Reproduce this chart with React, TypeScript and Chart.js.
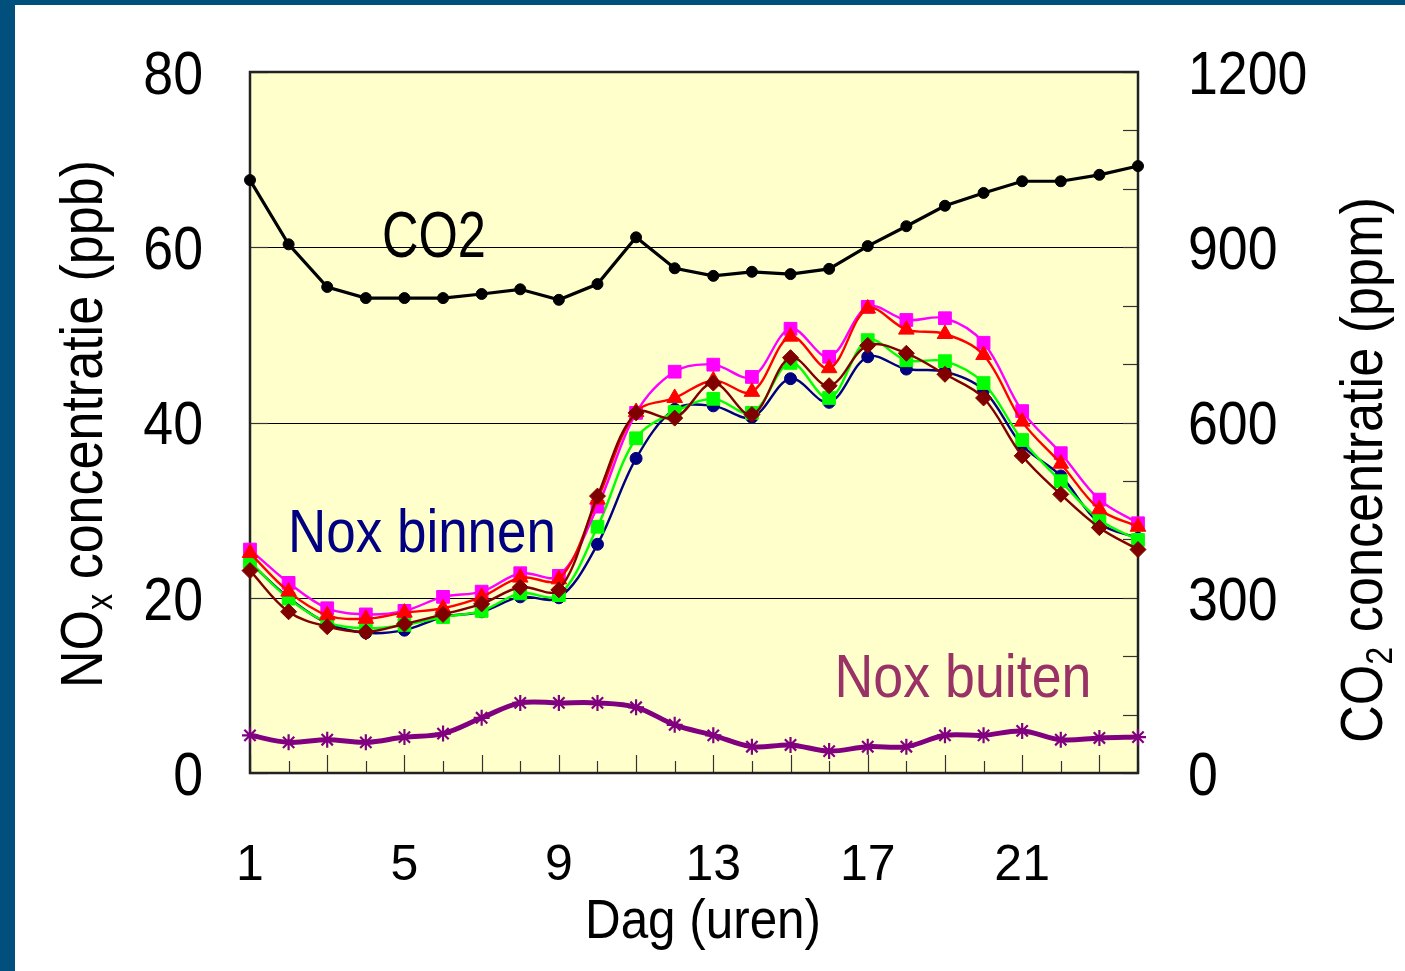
import React, { useEffect, useRef } from "react";
import { Chart, registerables } from "chart.js";

Chart.register(...registerables);

const hours = [1, 2, 3, 4, 5, 6, 7, 8, 9, 10, 11, 12, 13, 14, 15, 16, 17, 18, 19, 20, 21, 22, 23, 24];
const co2 = [1015, 905, 832, 813, 813, 813, 820, 828, 810, 837, 917, 864, 851, 858, 854, 863, 902, 936, 971, 993, 1013, 1013, 1024, 1039];
const noxBlue = [24.0, 20.0, 17.1, 16.0, 16.3, 17.8, 18.4, 20.1, 20.0, 26.1, 35.9, 41.5, 41.9, 40.6, 45.0, 42.3, 47.5, 46.1, 45.8, 43.7, 37.4, 33.9, 28.5, 26.8];
const noxGreen = [24.1, 19.9, 17.2, 16.5, 16.9, 17.8, 18.5, 20.5, 20.3, 28.1, 38.2, 41.2, 42.7, 41.1, 46.8, 42.8, 49.4, 47.1, 47.0, 44.5, 38.0, 33.3, 28.9, 26.6];
const noxRed = [25.1, 20.7, 18.0, 17.6, 18.3, 18.8, 20.1, 22.3, 22.1, 31.2, 41.2, 42.8, 44.8, 43.5, 49.8, 46.2, 53.0, 50.6, 50.1, 47.7, 40.1, 35.3, 30.1, 28.1];
const noxMagenta = [25.5, 21.7, 18.8, 18.1, 18.5, 20.1, 20.7, 22.8, 22.5, 30.4, 41.1, 45.8, 46.6, 45.2, 50.7, 47.5, 53.2, 51.7, 51.9, 49.1, 41.3, 36.5, 31.2, 28.5];
const noxMaroon = [23.1, 18.4, 16.7, 16.1, 17.0, 18.1, 19.3, 21.2, 20.9, 31.6, 41.1, 40.5, 44.5, 40.9, 47.4, 44.2, 48.8, 47.9, 45.5, 42.8, 36.2, 31.8, 28.0, 25.5];
const noxOut = [4.3, 3.5, 3.8, 3.5, 4.1, 4.5, 6.3, 8.0, 8.0, 8.0, 7.5, 5.5, 4.3, 3.0, 3.2, 2.5, 3.0, 3.0, 4.3, 4.3, 4.8, 3.8, 4.0, 4.1];

const xTickLabels = [1, 5, 9, 13, 17, 21];
const leftTicks = [0, 20, 40, 60, 80];
const rightTicks = [0, 300, 600, 900, 1200];
const rightMinorStep = 100;

const FONT = "'Liberation Sans', Arial, sans-serif";

type Seg = { t: string; sub?: boolean };

function drawFit(
  ctx: CanvasRenderingContext2D,
  segs: Seg[],
  cx: number,
  cy: number,
  width: number,
  size: number,
  color: string,
  rot: number
) {
  ctx.save();
  ctx.translate(cx, cy);
  ctx.rotate(rot);
  let total = 0;
  const ws: number[] = [];
  for (const s of segs) {
    ctx.font = `${s.sub ? size * 0.62 : size}px ${FONT}`;
    const w = ctx.measureText(s.t).width;
    ws.push(w);
    total += w;
  }
  const sc = width / total;
  ctx.scale(sc, 1);
  ctx.fillStyle = color;
  ctx.textAlign = "left";
  ctx.textBaseline = "alphabetic";
  let x = -total / 2;
  const base = size * 0.36;
  segs.forEach((s, i) => {
    ctx.font = `${s.sub ? size * 0.62 : size}px ${FONT}`;
    ctx.fillText(s.t, x, s.sub ? base + size * 0.17 : base);
    x += ws[i];
  });
  ctx.restore();
}

function drawNum(
  ctx: CanvasRenderingContext2D,
  text: string,
  x: number,
  cy: number,
  size: number,
  sx: number,
  align: CanvasTextAlign
) {
  ctx.save();
  ctx.translate(x, cy);
  ctx.scale(sx, 1);
  ctx.font = `${size}px ${FONT}`;
  ctx.fillStyle = "#000";
  ctx.textAlign = align;
  ctx.textBaseline = "alphabetic";
  ctx.fillText(text, 0, size * 0.358);
  ctx.restore();
}

const decorPlugin = {
  id: "decor",
  beforeDatasetsDraw(chart: any) {
    const ctx: CanvasRenderingContext2D = chart.ctx;
    const { left, right, top, bottom } = chart.chartArea;
    const xs = chart.scales.x;
    const ys = chart.scales.y;
    const y1 = chart.scales.y1;
    ctx.save();
    ctx.fillStyle = "#ffffcc";
    ctx.fillRect(left, top, right - left, bottom - top);
    // gridlines
    ctx.strokeStyle = "#000";
    ctx.lineWidth = 1.2;
    for (const v of leftTicks) {
      if (v === 0 || v === 80) continue;
      const py = Math.round(ys.getPixelForValue(v)) + 0.5;
      ctx.beginPath();
      ctx.moveTo(left, py);
      ctx.lineTo(right, py);
      ctx.stroke();
    }
    // inward x ticks
    ctx.strokeStyle = "#333";
    ctx.lineWidth = 1.2;
    for (const h of hours) {
      const px = Math.round(xs.getPixelForValue(h)) + 0.5;
      const len = h % 2 === 1 ? 18 : 12;
      ctx.beginPath();
      ctx.moveTo(px, bottom);
      ctx.lineTo(px, bottom - len);
      ctx.stroke();
    }
    // inward right ticks
    for (let v = 0; v <= 1200; v += rightMinorStep) {
      const py = Math.round(y1.getPixelForValue(v)) + 0.5;
      ctx.beginPath();
      ctx.moveTo(right, py);
      ctx.lineTo(right - 15, py);
      ctx.stroke();
    }
    // left ticks
    for (const v of leftTicks) {
      const py = Math.round(ys.getPixelForValue(v)) + 0.5;
      ctx.beginPath();
      ctx.moveTo(left, py);
      ctx.lineTo(left + 18, py);
      ctx.stroke();
    }
    // frame
    ctx.strokeStyle = "#222";
    ctx.lineWidth = 2.5;
    ctx.strokeRect(left, top, right - left, bottom - top);

    // tick labels
    for (const v of leftTicks) {
      drawNum(ctx, String(v), 203, ys.getPixelForValue(v), 61, 0.88, "right");
    }
    for (const v of rightTicks) {
      drawNum(ctx, String(v), 1188, y1.getPixelForValue(v), 61, 0.88, "left");
    }
    for (const v of xTickLabels) {
      drawNum(ctx, String(v), xs.getPixelForValue(v), 862, 50, 1, "center");
    }
    // titles
    drawFit(ctx, [{ t: "Dag (uren)" }], 703, 918, 236, 56, "#000", 0);
    drawFit(ctx, [{ t: "NO" }, { t: "x", sub: true }, { t: " concentratie (ppb)" }], 80, 424, 528, 60, "#000", -Math.PI / 2);
    drawFit(ctx, [{ t: "CO" }, { t: "2", sub: true }, { t: " concentratie (ppm)" }], 1360, 470, 546, 60, "#000", -Math.PI / 2);
    // annotations
    drawFit(ctx, [{ t: "CO2" }], 434, 234, 104, 64, "#000", 0);
    drawFit(ctx, [{ t: "Nox binnen" }], 422, 530, 268, 62, "#000080", 0);
    drawFit(ctx, [{ t: "Nox buiten" }], 963, 675, 257, 61, "#993366", 0);
    ctx.restore();
  },
};

function series(vals: number[]) {
  return hours.map((h, i) => ({ x: h, y: vals[i] }));
}

export default function App() {
  const ref = useRef<HTMLCanvasElement | null>(null);
  useEffect(() => {
    if (!ref.current) return;
    const mk = (label: string, vals: number[], color: string, style: any, radius: number, order: number, extra: any = {}) => ({
      label,
      data: series(vals),
      borderColor: color,
      backgroundColor: color,
      pointBackgroundColor: color,
      pointBorderColor: color,
      pointStyle: style,
      pointRadius: radius,
      pointBorderWidth: 1,
      borderWidth: 2.4,
      tension: 0.35,
      yAxisID: "y",
      clip: false,
      order,
      ...extra,
    });
    const chart = new Chart(ref.current, {
      type: "line",
      data: {
        datasets: [
          mk("CO2", co2, "#000000", "circle", 5.5, 0, { yAxisID: "y1", tension: 0, borderWidth: 3.2 }),
          mk("Nox buiten", noxOut, "#800080", "star", 8, 0, { borderWidth: 5, pointBorderWidth: 2.2 }),
          mk("Nox binnen 5", noxMaroon, "#800000", "rectRot", 8, 1),
          mk("Nox binnen 3", noxRed, "#ff0000", "triangle", 9, 2),
          mk("Nox binnen 4", noxMagenta, "#ff00ff", "rect", 9, 3),
          mk("Nox binnen 2", noxGreen, "#00ff00", "rect", 9, 4),
          mk("Nox binnen 1", noxBlue, "#000080", "circle", 6, 5),
        ],
      },
      options: {
        responsive: false,
        animation: false,
        layout: { padding: { top: 72, left: 0, right: 0, bottom: 0 } },
        plugins: { legend: { display: false }, tooltip: { enabled: false }, title: { display: false } },
        scales: {
          x: {
            type: "linear",
            min: 1,
            max: 24,
            ticks: { display: false },
            grid: { display: false },
            border: { display: false },
            afterFit: (s: any) => {
              s.height = 198;
            },
          },
          y: {
            position: "left",
            min: 0,
            max: 80,
            ticks: { display: false },
            grid: { display: false },
            border: { display: false },
            afterFit: (s: any) => {
              s.width = 250;
            },
          },
          y1: {
            position: "right",
            min: 0,
            max: 1200,
            ticks: { display: false },
            grid: { display: false },
            border: { display: false },
            afterFit: (s: any) => {
              s.width = 267;
            },
          },
        },
      },
      plugins: [decorPlugin],
    } as any);
    return () => chart.destroy();
  }, []);
  return (
    <div style={{ position: "fixed", left: 0, top: 0, width: 1405, height: 971, background: "#fff", overflow: "hidden" }}>
      <div style={{ position: "absolute", left: 0, top: 0, width: 1405, height: 5, background: "#004f7c" }} />
      <div style={{ position: "absolute", left: 0, top: 0, width: 15, height: 971, background: "#004f7c" }} />
      <canvas ref={ref} width={1405} height={971} style={{ position: "absolute", left: 0, top: 0 }} />
    </div>
  );
}
